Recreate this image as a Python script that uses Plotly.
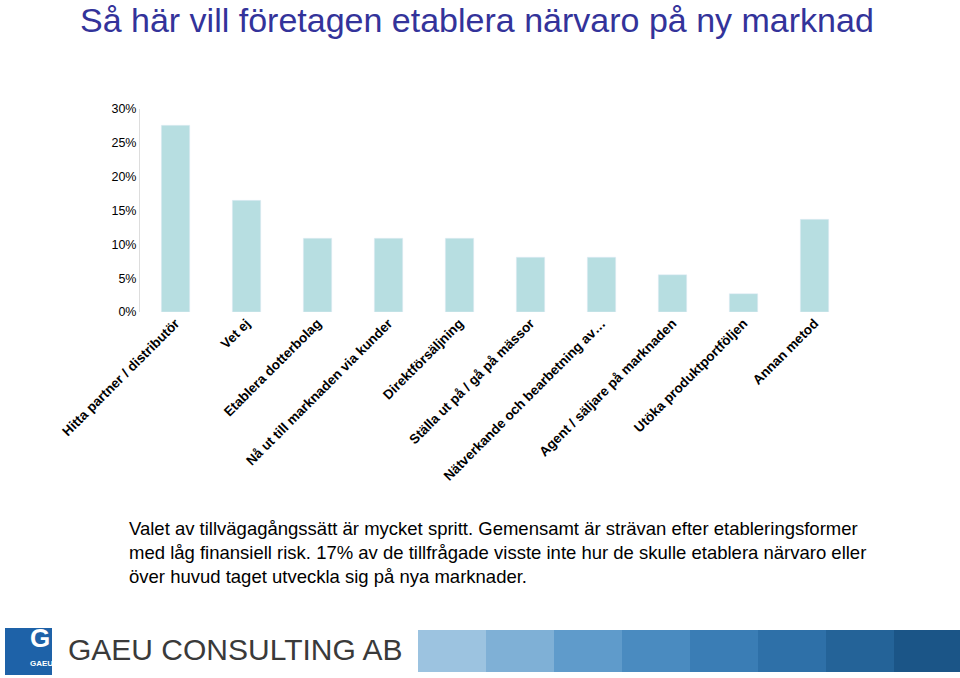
import plotly.graph_objects as go

categories = ["Hitta partner / distributör", "Vet ej", "Etablera dotterbolag",
              "Nå ut till marknaden via kunder", "Direktförsäljning",
              "Ställa ut på / gå på mässor", "Nätverkande och bearbetning av…",
              "Agent / säljare på marknaden", "Utöka produktportföljen", "Annan metod"]
values = [0.276, 0.165, 0.109, 0.109, 0.109, 0.081, 0.081, 0.055, 0.027, 0.137]

W, H = 960, 678
def px(x): return x / W
def py(y): return 1 - y / H

fig = go.Figure(go.Bar(x=categories, y=values, marker_color="#B7DEE1", width=0.4))

fig.update_layout(
    width=W, height=H, margin=dict(l=0, r=0, t=0, b=0, pad=0),
    plot_bgcolor="white", paper_bgcolor="white", showlegend=False,
    font=dict(family="Liberation Sans, Arial", color="black"),
    xaxis=dict(domain=[px(140), px(850)], anchor="y", tickangle=-45, automargin=False,
               tickfont=dict(size=13.5), showline=False, showgrid=False, ticks=""),
    yaxis=dict(domain=[py(312), py(109)], range=[0, 0.30], tickformat=".0%", automargin=False,
               dtick=0.05, showgrid=False, zeroline=False, tickfont=dict(size=12.5),
               showline=True, linecolor="#dddddd", linewidth=1),
)
fig.update_xaxes(tickvals=categories, ticktext=["<b>%s</b>" % c for c in categories])

fig.add_annotation(text="Så här vill företagen etablera närvaro på ny marknad",
                   x=px(78), y=py(20), xref="paper", yref="paper", showarrow=False,
                   xanchor="left", yanchor="middle",
                   font=dict(size=34, color="#33339A"))

fig.add_annotation(
    text="Valet av tillvägagångssätt är mycket spritt. Gemensamt är strävan efter etableringsformer<br>"
         "med låg finansiell risk. 17% av de tillfrågade visste inte hur de skulle etablera närvaro eller<br>"
         "över huvud taget utveckla sig på nya marknader.",
    x=px(127), y=py(516), xref="paper", yref="paper", showarrow=False,
    xanchor="left", yanchor="top", align="left", font=dict(size=18.5))

# footer
blues = ["#9CC3E0", "#7FB0D6", "#5F9BCB", "#4A8BC0", "#3A7DB5", "#2E70A8", "#246398", "#1B5587"]
for i, c in enumerate(blues):
    x0 = 418 + i * 68
    fig.add_shape(type="rect", xref="paper", yref="paper", x0=px(x0), x1=px(x0 + 68),
                  y0=py(672), y1=py(630), fillcolor=c, line_width=0)
fig.add_shape(type="rect", xref="paper", yref="paper", x0=px(5), x1=px(52),
              y0=py(675), y1=py(628), fillcolor="#1E62A8", line_width=0)
fig.add_annotation(text="<b>G</b>", x=px(28), y=py(655), xref="paper", yref="paper",
                   showarrow=False, font=dict(size=26, color="white"))
fig.add_annotation(text="<b>GAEU</b>", x=px(28), y=py(670), xref="paper", yref="paper",
                   showarrow=False, font=dict(size=8, color="white"))
fig.add_annotation(text="GAEU CONSULTING AB", x=px(66), y=py(668), xref="paper", yref="paper",
                   showarrow=False, xanchor="left", font=dict(size=30, color="#3a3a3a"))

fig.write_html("out.html", config={"displayModeBar": False})
with open("out.html", encoding="utf-8") as f:
    html = f.read()
html = html.replace("<head>", "<head><style>body{margin:0;overflow:hidden}</style>", 1)
with open("out.html", "w", encoding="utf-8") as f:
    f.write(html)
